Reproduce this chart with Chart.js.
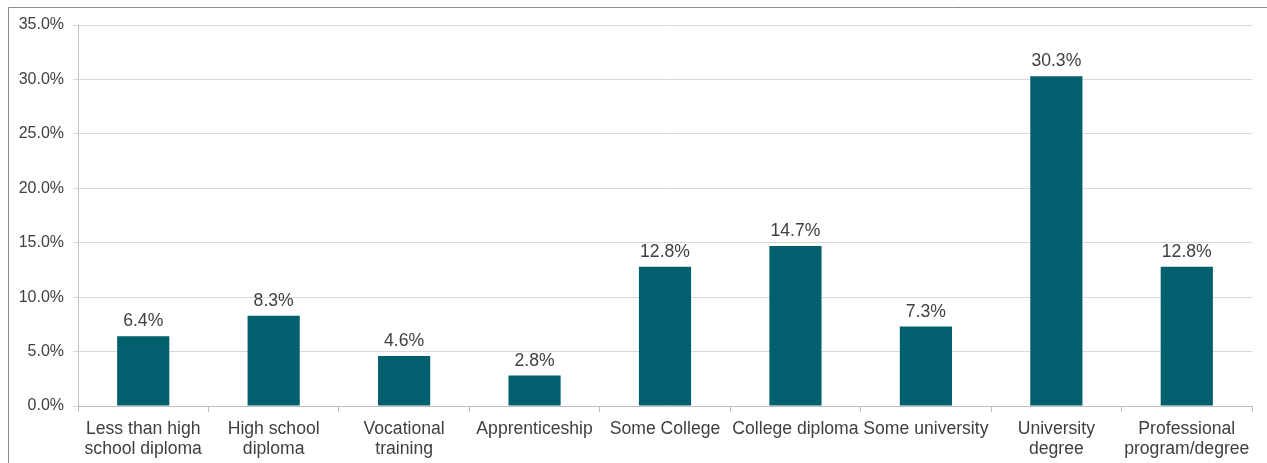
<!DOCTYPE html>
<html>
<head>
<meta charset="utf-8">
<script src="https://cdn.jsdelivr.net/npm/chart.js@4/dist/chart.umd.min.js"></script>
<style>
html,body{margin:0;padding:0;background:#fff;}
#wrap{position:relative;width:1267px;height:463px;}
</style>
</head>
<body>
<div id="wrap"><canvas id="c" width="1267" height="463"></canvas></div>
<script>
const categories = [
  ["Less than high", "school diploma"],
  ["High school", "diploma"],
  ["Vocational", "training"],
  "Apprenticeship",
  "Some College",
  "College diploma",
  "Some university",
  ["University", "degree"],
  ["Professional", "program/degree"]
];
const values = [6.4, 8.3, 4.6, 2.8, 12.8, 14.7, 7.3, 30.3, 12.8];
const yTicks = [0, 5, 10, 15, 20, 25, 30, 35];

const FONT = "'Liberation Sans', Arial, sans-serif";
const TEXT = '#404040';

const framePlugin = {
  id: 'frame',
  afterDraw(chart) {
    const ctx = chart.ctx;
    ctx.save();
    ctx.strokeStyle = '#8c8c8c';
    ctx.lineWidth = 1;
    ctx.beginPath();
    ctx.moveTo(8.5, 463);
    ctx.lineTo(8.5, 7.5);
    ctx.lineTo(1267, 7.5);
    ctx.stroke();
    ctx.restore();
  }
};

const labelPlugin = {
  id: 'barLabels',
  afterDatasetsDraw(chart) {
    const ctx = chart.ctx;
    const meta = chart.getDatasetMeta(0);
    ctx.save();
    ctx.font = '17.6px ' + FONT;
    ctx.fillStyle = TEXT;
    ctx.textAlign = 'center';
    ctx.textBaseline = 'bottom';
    meta.data.forEach((bar, i) => {
      ctx.fillText(values[i].toFixed(1) + '%', bar.x, bar.y - 6);
    });
    ctx.restore();
  }
};

new Chart(document.getElementById('c'), {
  type: 'bar',
  data: {
    labels: categories,
    datasets: [{
      data: values,
      backgroundColor: '#02606E',
      borderWidth: 0,
      barPercentage: 0.4,
      categoryPercentage: 1.0
    }]
  },
  options: {
    responsive: false,
    animation: false,
    devicePixelRatio: 1,
    layout: { padding: { left: 0, right: 15, top: 25, bottom: 0 } },
    plugins: { legend: { display: false }, tooltip: { enabled: false } },
    scales: {
      x: {
        grid: { display: true, drawOnChartArea: false, drawTicks: true, tickLength: 6, color: '#bfbfbf', offset: true },
        border: { display: true, color: '#bfbfbf' },
        ticks: { color: TEXT, font: { family: FONT, size: 17.6, lineHeight: 1.15 }, padding: 7, maxRotation: 0, autoSkip: false },
        afterFit(s) { s.height = 57; }
      },
      y: {
        min: 0, max: 35,
        afterBuildTicks(s) { s.ticks = yTicks.map(v => ({ value: v })); },
        grid: { color: '#d9d9d9', tickLength: 5, drawTicks: true },
        border: { display: true, color: '#bfbfbf' },
        ticks: {
          color: TEXT,
          font: { family: FONT, size: 16 },
          padding: 9,
          callback: v => v.toFixed(1) + '%'
        },
        afterFit(s) { s.width = 78; }
      }
    }
  },
  plugins: [framePlugin, labelPlugin]
});
</script>
</body>
</html>
